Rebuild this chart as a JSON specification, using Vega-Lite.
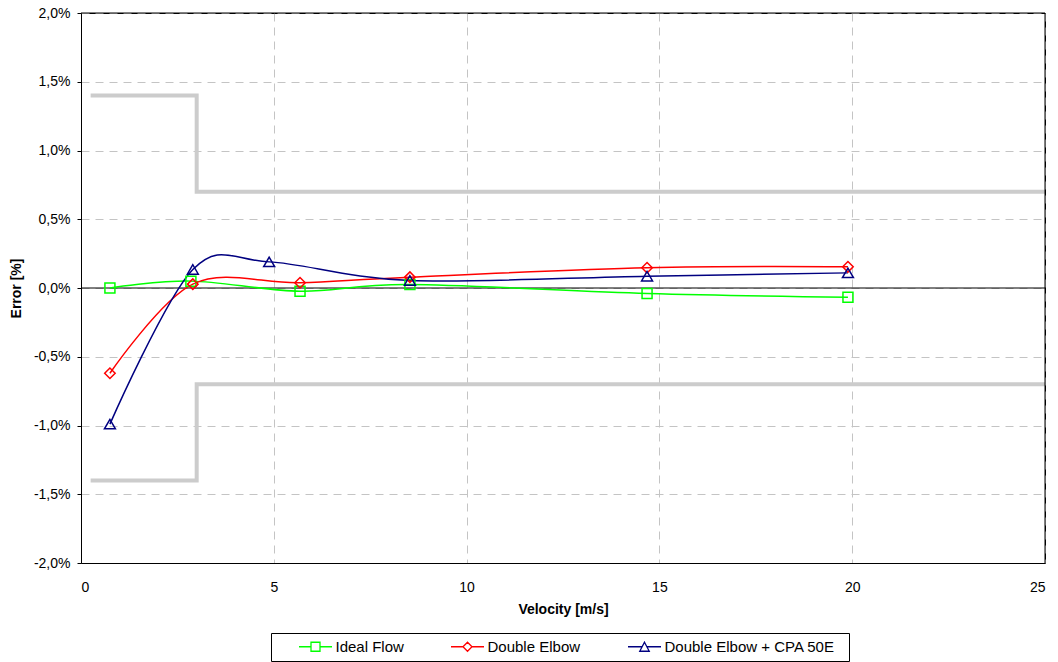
{
  "$schema": "https://vega.github.io/schema/vega-lite/v6.json",
  "width": 964,
  "height": 550,
  "autosize": {"type": "none"},
  "padding": {"left": 81, "top": 13, "right": 13, "bottom": 99},
  "background": "white",
  "config": {
    "font": "Liberation Sans",
    "locale": {"number": {"decimal": ",", "thousands": ".", "grouping": [3], "currency": ["", " €"], "minus": "-"}},
    "view": {"stroke": "black", "strokeWidth": 1},
    "axis": {
      "labelFont": "Liberation Sans", "labelFontSize": 14, "labelColor": "black",
      "titleFont": "Liberation Sans", "titleFontSize": 14, "titleFontWeight": "bold", "titleColor": "black",
      "domainColor": "black", "tickColor": "black",
      "gridColor": "#c4c4c4", "gridDash": [8, 6], "gridWidth": 1
    },
    "legend": {
      "orient": "none", "legendX": 190, "legendY": 620, "direction": "horizontal",
      "strokeColor": "black", "padding": 6, "fillColor": "white",
      "labelFont": "Liberation Sans", "labelFontSize": 15, "labelColor": "black", "labelLimit": 400,
      "symbolOffset": 31, "labelOffset": 12.5, "columnPadding": 25, "symbolStrokeWidth": 1.3
    }
  },
  "datasets": {
    "series": [
      {"series": "Ideal Flow", "vel": 0.75, "err": 0.0},
      {"series": "Ideal Flow", "vel": 2.85, "err": 0.05},
      {"series": "Ideal Flow", "vel": 5.68, "err": -0.023},
      {"series": "Ideal Flow", "vel": 8.53, "err": 0.025},
      {"series": "Ideal Flow", "vel": 14.68, "err": -0.04},
      {"series": "Ideal Flow", "vel": 19.89, "err": -0.067},
      {"series": "Double Elbow", "vel": 0.75, "err": -0.62},
      {"series": "Double Elbow", "vel": 2.9, "err": 0.028},
      {"series": "Double Elbow", "vel": 5.68, "err": 0.038},
      {"series": "Double Elbow", "vel": 8.53, "err": 0.079},
      {"series": "Double Elbow", "vel": 14.68, "err": 0.147},
      {"series": "Double Elbow", "vel": 19.89, "err": 0.154},
      {"series": "Double Elbow + CPA 50E", "vel": 0.75, "err": -0.99},
      {"series": "Double Elbow + CPA 50E", "vel": 2.9, "err": 0.135},
      {"series": "Double Elbow + CPA 50E", "vel": 4.88, "err": 0.19},
      {"series": "Double Elbow + CPA 50E", "vel": 8.53, "err": 0.055},
      {"series": "Double Elbow + CPA 50E", "vel": 14.68, "err": 0.086},
      {"series": "Double Elbow + CPA 50E", "vel": 19.89, "err": 0.11}
    ],
    "limits": [
      {"limit": "upper", "ord": 1, "vel": 0.25, "err": 1.4},
      {"limit": "upper", "ord": 2, "vel": 3.0, "err": 1.4},
      {"limit": "upper", "ord": 3, "vel": 3.0, "err": 0.7},
      {"limit": "upper", "ord": 4, "vel": 25.0, "err": 0.7},
      {"limit": "lower", "ord": 1, "vel": 0.25, "err": -1.4},
      {"limit": "lower", "ord": 2, "vel": 3.0, "err": -1.4},
      {"limit": "lower", "ord": 3, "vel": 3.0, "err": -0.7},
      {"limit": "lower", "ord": 4, "vel": 25.0, "err": -0.7}
    ],
    "hrules": [{"err": 0}, {"err": 2}],
    "vrules": [{"vel": 25}]
  },
  "encoding": {
    "x": {
      "field": "vel", "type": "quantitative",
      "scale": {"domain": [0, 25], "nice": false, "zero": false},
      "axis": {"values": [0, 5, 10, 15, 20, 25], "title": "Velocity [m/s]", "ticks": false, "labelPadding": 17, "titlePadding": 8, "domain": true}
    },
    "y": {
      "field": "err", "type": "quantitative",
      "scale": {"domain": [-2, 2], "nice": false, "zero": false},
      "axis": {"values": [-2, -1.5, -1, -0.5, 0, 0.5, 1, 1.5, 2], "format": ".1f", "labelExpr": "datum.label + '%'", "title": "Error [%]", "tickSize": 4, "labelPadding": 7, "titlePadding": 10}
    }
  },
  "layer": [
    {
      "data": {"name": "limits"},
      "mark": {"type": "line", "color": "#cccccc", "strokeWidth": 4, "strokeCap": "butt", "strokeJoin": "miter"},
      "encoding": {"detail": {"field": "limit"}, "order": {"field": "ord"}}
    },
    {
      "data": {"name": "hrules"},
      "mark": {"type": "rule", "color": "black", "strokeWidth": 1},
      "encoding": {"x": null}
    },
    {
      "data": {"name": "vrules"},
      "mark": {"type": "rule", "color": "black", "strokeWidth": 1},
      "encoding": {"y": null}
    },
    {
      "data": {"name": "series"},
      "mark": {"type": "line", "interpolate": "cardinal", "strokeWidth": 1.5},
      "encoding": {
        "color": {
          "field": "series", "type": "nominal",
          "scale": {"domain": ["Ideal Flow", "Double Elbow", "Double Elbow + CPA 50E"], "range": ["#00ff00", "#ff0000", "#000080"]},
          "legend": {"title": null}
        }
      }
    },
    {
      "data": {"name": "series"},
      "transform": [{"filter": "datum.series == 'Ideal Flow'"}],
      "mark": {"type": "point", "shape": "square", "filled": false, "color": "#00ff00", "size": 100, "strokeWidth": 1.5, "opacity": 1}
    },
    {
      "data": {"name": "series"},
      "transform": [{"filter": "datum.series == 'Double Elbow'"}],
      "mark": {"type": "point", "shape": "diamond", "filled": false, "color": "#ff0000", "size": 110, "strokeWidth": 1.5, "opacity": 1}
    },
    {
      "data": {"name": "series"},
      "transform": [{"filter": "datum.series == 'Double Elbow + CPA 50E'"}],
      "mark": {"type": "point", "shape": "triangle-up", "filled": false, "color": "#000080", "size": 120, "strokeWidth": 1.5, "opacity": 1}
    },
    {
      "data": {"name": "series"},
      "transform": [{"filter": "datum.vel < -100"}],
      "mark": {"type": "point", "filled": false, "size": 100, "strokeWidth": 1.3, "opacity": 1},
      "encoding": {
        "color": {
          "field": "series", "type": "nominal",
          "scale": {"domain": ["Ideal Flow", "Double Elbow", "Double Elbow + CPA 50E"], "range": ["#00ff00", "#ff0000", "#000080"]},
          "legend": {"title": null}
        },
        "shape": {
          "field": "series", "type": "nominal",
          "scale": {"domain": ["Ideal Flow", "Double Elbow", "Double Elbow + CPA 50E"], "range": [
            "M-3.3,0H-0.9M0.9,0H3.3M-0.9,-0.9H0.9V0.9H-0.9Z",
            "M-3.3,0H-0.9M0.9,0H3.3M-0.9,0L0,-0.9L0.9,0L0,0.9Z",
            "M-3.3,0H-0.48M0.48,0H3.3M0,-0.9L0.95,0.9H-0.95ZM39,0"
          ]},
          "legend": {"title": null}
        }
      }
    }
  ]
}
